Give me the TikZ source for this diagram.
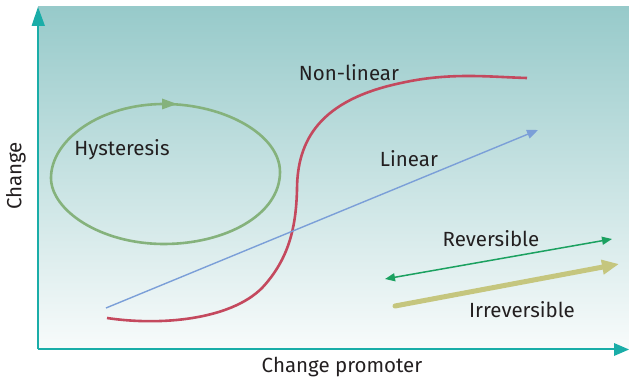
\documentclass[tikz,border=0pt]{standalone}
\usepackage{fontspec}
\setmainfont{Fira Sans}
\usetikzlibrary{arrows.meta}
\definecolor{axisc}{HTML}{1AADA8}
\definecolor{bgtop}{HTML}{97CACA}
\definecolor{bgbot}{HTML}{F8FBFB}
\definecolor{hystc}{HTML}{85B27C}
\definecolor{nonlc}{HTML}{C4495E}
\definecolor{linc}{HTML}{7B9FD8}
\definecolor{revc}{HTML}{1BA160}
\definecolor{irrc}{HTML}{C5C67E}
\definecolor{txtc}{HTML}{231F20}
\tikzset{
  lbl/.style={text=txtc, inner sep=0pt, font=\fontsize{20.5}{23}\selectfont},
  axisline/.style={axisc, line width=1.6pt},
  axishead/.style={fill=axisc, draw=none},
}
\begin{document}
\begin{tikzpicture}[x=1pt,y=-1pt]
\useasboundingbox (0,0) rectangle (629,379);
% background gradient
\shade[top color=bgtop, bottom color=bgbot] (38,7) rectangle (629,349);
% axes
\draw[axisline] (38,349) -- (38,24);
\draw[axisline] (38,349) -- (616,349);
\fill[axishead] (38,7) -- (45,26) -- (31.5,26) -- cycle;
\fill[axishead] (629,349.5) -- (614,343) -- (614,356) -- cycle;
% hysteresis loop
\draw[hystc, line width=2.6pt]
  (164,104) .. controls (225,104) and (280,135) .. (280,172)
  .. controls (280,215) and (225,244) .. (164,244)
  .. controls (100,244) and (51,210) .. (51,178)
  .. controls (51,140) and (100,104) .. (164,104) -- cycle;
\fill[hystc] (177,104) -- (162,98.5) -- (162,109.5) -- cycle;
% non-linear curve
\draw[nonlc, line width=2.6pt]
  (107,318) .. controls (160,326) and (230,320) .. (262,288)
  .. controls (290,258) and (296,225) .. (297,190)
  .. controls (297,140) and (320,100) .. (401,83)
  .. controls (450,72) and (490,77) .. (527,78);
% linear
\coordinate (l0) at (106,308);
\coordinate (l1) at (538,130);
\draw[linc, line width=1.4pt, -{Triangle[length=11pt,width=9pt]}] (l0) -- (l1);
% reversible
\coordinate (r0) at (385,279);
\coordinate (r1) at (612,239);
\draw[revc, line width=1.5pt, {Triangle[length=10pt,width=8pt]}-{Triangle[length=10pt,width=8pt]}] (r0) -- (r1);
% irreversible
\coordinate (i0) at (395,306);
\coordinate (i1) at (619,264);
\draw[irrc, line width=5pt, line cap=round, -{Triangle[length=17pt,width=14pt]}] (i0) -- (i1);
% labels
\node[lbl] (hy) at (122,150) {Hysteresis};
\node[lbl] (nl) at (349,73) {Non-linear};
\node[lbl] (li) at (409,159) {Linear};
\node[lbl] (re) at (491,239) {Reversible};
\node[lbl] (ir) at (522,310) {Irreversible};
\node[lbl] (xl) at (342,367) {Change promoter};
\node[lbl, rotate=90] (yl) at (16,176) {Change};
\end{tikzpicture}
\end{document}
